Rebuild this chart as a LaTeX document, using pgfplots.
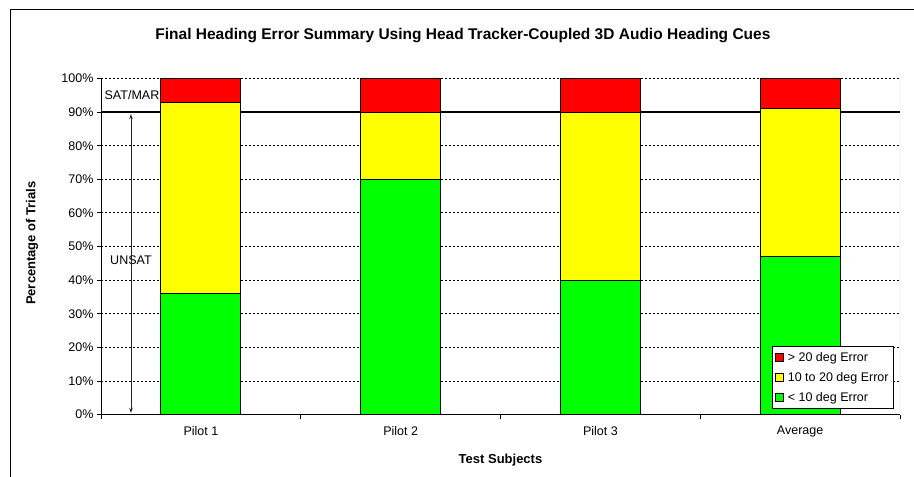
\documentclass[border=0pt]{standalone}
\usepackage{fontspec}
\setmainfont{Liberation Sans}
\usepackage{pgfplots}
\pgfplotsset{compat=1.18}
\usetikzlibrary{arrows.meta}

\definecolor{barred}{RGB}{255,0,0}
\definecolor{baryellow}{RGB}{255,255,0}
\definecolor{bargreen}{RGB}{0,255,0}

\begin{document}
\begin{tikzpicture}[x=1pt,y=1pt]
\useasboundingbox (0,0) rectangle (914,477);
\fill[white] (0,0) rectangle (914,477);
\draw[black, line width=1pt] (10,-20) rectangle (940,467);
\begin{axis}[
  at={(101pt,62.5pt)}, anchor=south west,
  scale only axis, width=799pt, height=336pt,
  ybar stacked, bar width=80pt,
  xmin=-0.5, xmax=3.5, ymin=0, ymax=100,
  xtick={-0.5,0.5,1.5,2.5,3.5},
  x tick label as interval,
  xticklabels={Pilot 1,Pilot 2,Pilot 3,Average},
  xticklabel style={yshift=-4pt},
  ytick={0,10,...,100},
  yticklabels={0\%,10\%,20\%,30\%,40\%,50\%,60\%,70\%,80\%,90\%,100\%},
  axis x line*=bottom, axis y line*=left,
  axis line style={black, line width=0.9pt},
  tick align=outside, major tick length=4pt,
  tick style={black, line width=0.8pt},
  ymajorgrids=true,
  major grid style={black, line width=0.8pt, dash pattern=on 2pt off 2pt},
  tick label style={font=\fontsize{12.5}{15}\selectfont},
  title={Final Heading Error Summary Using Head Tracker-Coupled 3D Audio Heading Cues},
  title style={at={(0.453,1.111)}, anchor=center, font=\bfseries\fontsize{15.5}{18}\selectfont},
  xlabel={Test Subjects},
  xlabel style={at={(0.5,-0.135)}, anchor=center, font=\bfseries\fontsize{13}{15}\selectfont},
  ylabel={Percentage of Trials},
  ylabel style={at={(-0.0864,0.51)}, anchor=center, font=\bfseries\fontsize{13}{15}\selectfont},
  reverse legend,
  legend cell align=left,
  legend style={at={(0.9925,0.205)}, anchor=north east, draw=black, line width=0.8pt,
    font=\fontsize{12.5}{15}\selectfont, row sep=5.5pt, inner xsep=3pt, inner ysep=4pt},
  legend image code/.code={\draw[#1, draw=black, line width=0.6pt] (0pt,-3.7pt) rectangle (7.5pt,3.7pt); \path (10pt,0pt);},
]
\addplot[fill=bargreen, draw=black, line width=0.8pt] coordinates {(0,36) (1,70) (2,40) (3,47)};
\addlegendentry{< 10 deg Error}
\addplot[fill=baryellow, draw=black, line width=0.8pt] coordinates {(0,57) (1,20) (2,50) (3,44)};
\addlegendentry{10 to 20 deg Error}
\addplot[fill=barred, draw=black, line width=0.8pt] coordinates {(0,7) (1,10) (2,10) (3,9)};
\addlegendentry{> 20 deg Error}
\draw[black, line width=2pt] (axis cs:-0.5,90) -- (axis cs:3.5,90);
\draw[gray!50, line width=1pt] (rel axis cs:1,0) -- (rel axis cs:1,1);
\draw[{Stealth[length=5pt,width=3.5pt]}-{Stealth[length=5pt,width=3.5pt]}, line width=0.8pt, black!85]
  (axis cs:-0.35,89.4) -- (axis cs:-0.35,0.5);
\node[fill=white, inner sep=3pt, font=\fontsize{12.5}{15}\selectfont] at (axis cs:-0.35,46) {UNSAT};
\node[font=\fontsize{12.5}{15}\selectfont] at (axis cs:-0.345,95) {SAT/MAR};
\end{axis}
\end{tikzpicture}
\end{document}
